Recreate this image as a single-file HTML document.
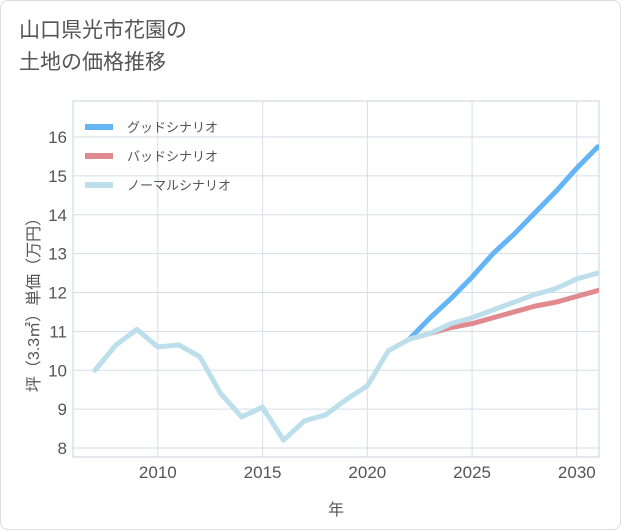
<!DOCTYPE html>
<html><head><meta charset="utf-8"><style>
body{margin:0;background:#fff;font-family:"Liberation Sans","Noto Sans CJK JP",sans-serif;}
#card{position:absolute;left:0;top:0;width:619px;height:528px;border:1px solid #ddd;border-radius:8px;background:#fff;}
#title{position:absolute;left:18px;top:14px;font-size:21px;line-height:32px;color:#555;}
</style></head><body>
<div id="card">
<div id="title">山口県光市花園の<br>土地の価格推移</div>
<svg id="chart" width="621" height="530" style="position:absolute;left:0;top:0"></svg>
</div>
<script>
const years=[2007,2008,2009,2010,2011,2012,2013,2014,2015,2016,2017,2018,2019,2020,2021,2022,2023,2024,2025,2026,2027,2028,2029,2030,2031];
const normal=[10.0,10.65,11.05,10.6,10.65,10.35,9.4,8.8,9.05,8.2,8.7,8.85,9.25,9.6,10.5,10.8,10.95,11.2,11.35,11.55,11.75,11.95,12.1,12.35,12.5];
const goodYears=[2022,2023,2024,2025,2026,2027,2028,2029,2030,2031];
const good=[10.8,11.35,11.85,12.4,13.0,13.5,14.05,14.6,15.2,15.75];
const bad=[10.8,10.95,11.1,11.2,11.35,11.5,11.65,11.75,11.9,12.05];
const yTicks=[8,9,10,11,12,13,14,15,16];
const xTicks=[2010,2015,2020,2025,2030];
const seriesNames=["グッドシナリオ","バッドシナリオ","ノーマルシナリオ"];
const colors=["#64b5f6","#e08a8f","#bcdfeb"];
const L=72,R=598,T=100,B=456;
const x=v=>94+(v-2007)*20.95;
const y=v=>447-(v-8)*38.875;
const svg=document.getElementById('chart');
const NS='http://www.w3.org/2000/svg';
function mk(t,a){const e=document.createElementNS(NS,t);for(const k in a)e.setAttribute(k,a[k]);svg.appendChild(e);return e;}
const bg=mk('rect',{x:L,y:T,width:R-L,height:B-T,fill:'#fff',stroke:'#c8d3dc'});


yTicks.forEach(v=>{
 const g=mk('line',{x1:L,x2:R,y1:y(v),y2:y(v),stroke:'#d5dee6'});
 
 
 const t=mk('text',{x:L-6,y:y(v)+6,'text-anchor':'end','font-size':17,fill:'#555'});
 t.textContent=v;
 
 
});
xTicks.forEach(v=>{
 const g=mk('line',{x1:x(v),x2:x(v),y1:T,y2:B,stroke:'#d5dee6'});
 
 
 const t=mk('text',{x:x(v),y:B+21,'text-anchor':'middle','font-size':17,fill:'#555'});
 t.textContent=v;
 
 
});
const xt=mk('text',{x:335,y:514,'text-anchor':'middle','font-size':16,fill:'#555'});
xt.textContent='年';


const yt=mk('text',{x:0,y:0,'text-anchor':'middle','font-size':16,fill:'#555',transform:'translate(38,300) rotate(-90)'});
yt.textContent='坪（3.3㎡）単価（万円）';


const clip=mk('clipPath',{id:'c'});
const cr=document.createElementNS(NS,'rect');cr.setAttribute('x',L);cr.setAttribute('y',T);cr.setAttribute('width',R-L);cr.setAttribute('height',B-T);clip.appendChild(cr);
function line(xs,vs,c,name){
 const p=mk('polyline',{points:xs.map((v,i)=>x(v)+','+y(vs[i])).join(' '),fill:'none',stroke:c,'stroke-width':5,'stroke-linejoin':'round','stroke-linecap':'round','clip-path':'url(#c)'});
 
 
}
line(goodYears,good,colors[0],'good-scenario-line');
line(goodYears,bad,colors[1],'bad-scenario-line');
line(years,normal,colors[2],'normal-scenario-line');
seriesNames.forEach((n,i)=>{
 const ly=126+i*29;
 const l=mk('line',{x1:84,x2:112,y1:ly,y2:ly,stroke:colors[i],'stroke-width':6});
 
 
 const t=mk('text',{x:126,y:ly+5,'font-size':13,fill:'#555'});
 t.textContent=n;
 
 
});
</script>
</body></html>
